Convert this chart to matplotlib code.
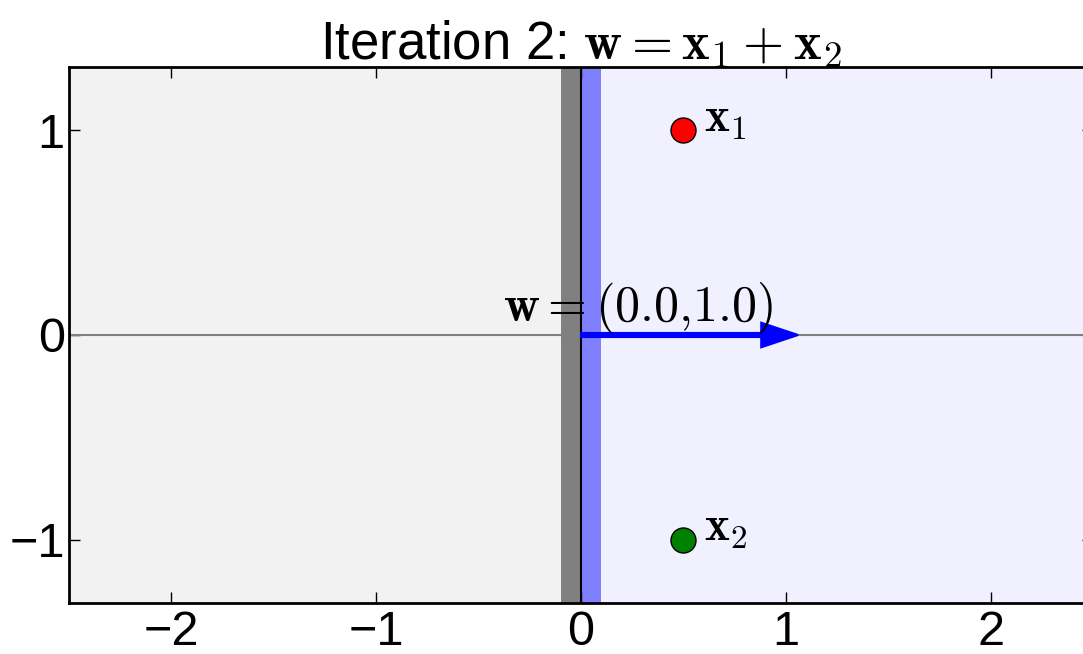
import numpy as np
import matplotlib
matplotlib.use('Agg')
import matplotlib.pyplot as plt

plt.rcParams['font.family'] = ['Liberation Sans', 'DejaVu Sans']
plt.rcParams['mathtext.fontset'] = 'cm'

# data
iteration = 2
w = [0.0, 1.0]
points_x = [0.5, 0.5]
points_y = [1.0, -1.0]
point_colors = ['red', 'green']
point_labels = [r'$\mathbf{x}_1$', r'$\mathbf{x}_2$']
arrow_vec = [1.0, 0.0]
xticks = [-2, -1, 0, 1, 2]
yticks = [-1, 0, 1]

fig = plt.figure(figsize=(10.83, 6.54), dpi=100)
ax = fig.add_axes([69/1083, 1 - 603/654, (1093-69)/1083, (603-67)/654])

xmin, xmax = -2.5, 2.5
ymin, ymax = -1.31, 1.31

# half planes
ax.axvspan(xmin, 0, color='#f2f2f2', zorder=0)
ax.axvspan(0, xmax, color='#f0f0ff', zorder=0)
ax.axvspan(-0.1, 0, color='#808080', zorder=1, lw=0)
ax.axvspan(0, 0.1, color='#8080ff', zorder=1, lw=0)

ax.axhline(0, color='gray', lw=1.5, zorder=2)
ax.axvline(0, color='black', lw=1.5, zorder=2)

# weight vector
ax.arrow(0, 0, arrow_vec[0]*0.88, arrow_vec[1], width=0.02, head_width=0.12,
         head_length=0.18, fc='blue', ec='blue', lw=1.5, zorder=4)

for px, py, c, lab in zip(points_x, points_y, point_colors, point_labels):
    ax.plot(px, py, 'o', color=c, markersize=18, mec='black', mew=1, zorder=5)
    ax.text(px + 0.1, py + 0.05, lab, fontsize=34, ha='left', va='center', zorder=6)

ax.text(0.28, 0.07, r'$\mathbf{w} = (%.1f{,}%.1f)$' % (w[0], w[1]), fontsize=36,
        ha='center', va='baseline', zorder=6)

ax.set_xlim(xmin, xmax)
ax.set_ylim(ymin, ymax)
ax.set_xticks(xticks)
ax.set_yticks(yticks)
ax.tick_params(direction='in', top=True, right=True, labelsize=35, length=8, width=1)
ax.tick_params(axis='x', pad=5)
ax.tick_params(axis='y', pad=3)
ax.set_xticklabels(['\u22122', '\u22121', '0', '1', '2'])
ax.set_yticklabels(['\u22121', '0', '1'])
for s in ax.spines.values():
    s.set_linewidth(2)

ax.set_title(r'Iteration %d: $\mathbf{w} = \mathbf{x}_1 + \mathbf{x}_2$' % iteration,
             fontsize=38, pad=6)

fig.savefig('out.png', dpi=100)
